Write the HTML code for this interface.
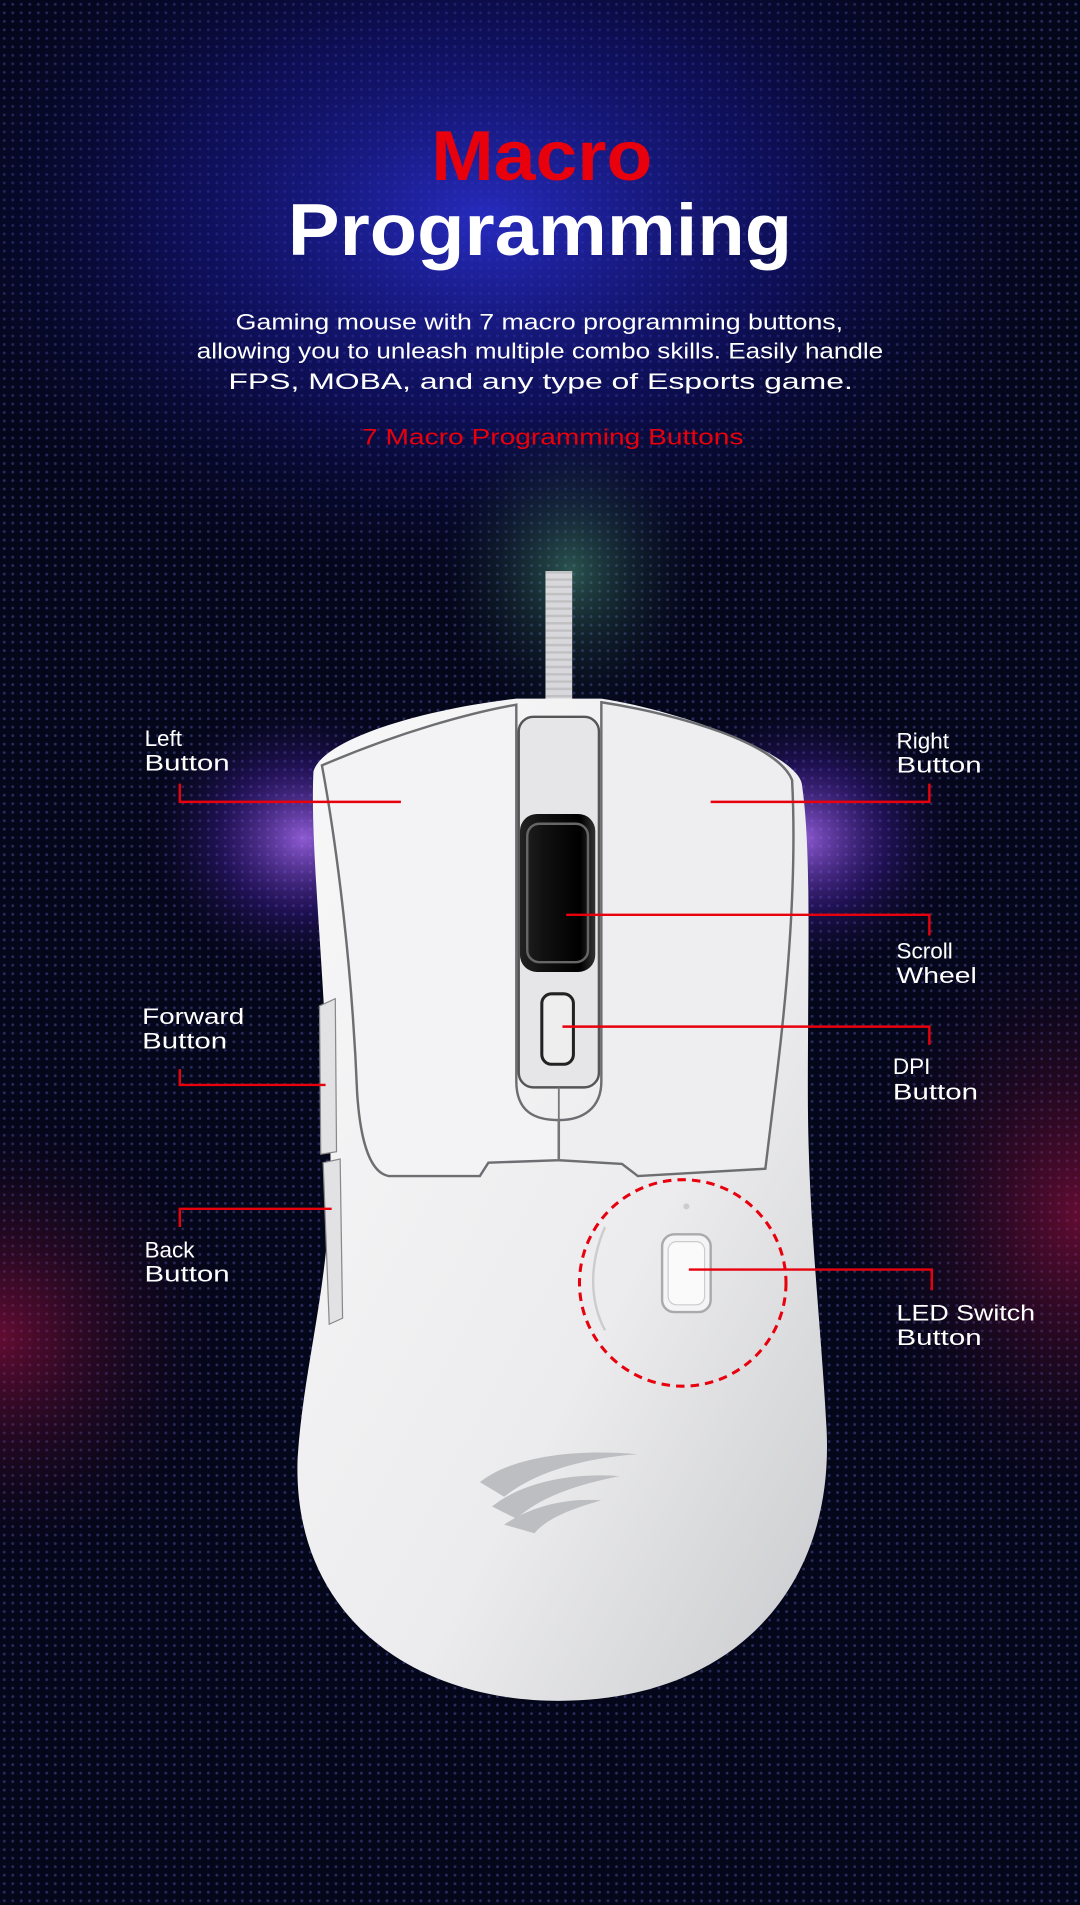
<!DOCTYPE html>
<html><head><meta charset="utf-8"><style>
html,body{margin:0;padding:0;background:#04061a;}
svg{display:block;}
</style></head><body>
<svg width="1080" height="1905" viewBox="0 0 889 1568" xmlns="http://www.w3.org/2000/svg" font-family="'Liberation Sans', sans-serif">
<defs>
<radialGradient id="gBlue" cx="0.5" cy="0.5" r="0.5">
<stop offset="0" stop-color="#2a2fd0" stop-opacity="0.9"/><stop offset="0.5" stop-color="#16168a" stop-opacity="0.5"/><stop offset="1" stop-color="#050818" stop-opacity="0"/></radialGradient>
<radialGradient id="gPurp" cx="0.5" cy="0.5" r="0.5">
<stop offset="0" stop-color="#b070ff" stop-opacity="0.8"/><stop offset="0.5" stop-color="#4a22a8" stop-opacity="0.4"/><stop offset="1" stop-color="#050818" stop-opacity="0"/></radialGradient>
<radialGradient id="gRed" cx="0.5" cy="0.5" r="0.5">
<stop offset="0" stop-color="#a01040" stop-opacity="0.6"/><stop offset="1" stop-color="#050818" stop-opacity="0"/></radialGradient>
<radialGradient id="gGreen" cx="0.5" cy="0.5" r="0.5">
<stop offset="0" stop-color="#50a080" stop-opacity="0.5"/><stop offset="1" stop-color="#050818" stop-opacity="0"/></radialGradient>
<pattern id="dots" width="7" height="7" patternUnits="userSpaceOnUse"><circle cx="3.5" cy="3.5" r="1.2" fill="#6f70d8" fill-opacity="0.35"/></pattern>
<linearGradient id="body" x1="0" y1="0" x2="1" y2="1"><stop offset="0" stop-color="#f8f8f9"/><stop offset="0.6" stop-color="#ececee"/><stop offset="1" stop-color="#c9cacd"/></linearGradient>
<linearGradient id="wheel" x1="0" y1="0" x2="1" y2="0"><stop offset="0" stop-color="#222"/><stop offset="0.3" stop-color="#111"/><stop offset="0.8" stop-color="#000"/><stop offset="1" stop-color="#333"/></linearGradient>
</defs>
<rect width="889" height="1568" fill="#04061a"/>
<rect width="889" height="1568" fill="url(#dots)"/>
<ellipse cx="400" cy="180" rx="520" ry="330" fill="url(#gBlue)"/>
<ellipse cx="470" cy="470" rx="120" ry="140" fill="url(#gGreen)"/>
<ellipse cx="250" cy="690" rx="140" ry="120" fill="url(#gPurp)"/>
<ellipse cx="660" cy="690" rx="140" ry="120" fill="url(#gPurp)"/>
<ellipse cx="0" cy="1100" rx="200" ry="200" fill="url(#gRed)"/>
<ellipse cx="889" cy="1000" rx="200" ry="260" fill="url(#gRed)"/>

<text x="355" y="148" textLength="182" lengthAdjust="spacingAndGlyphs" font-size="58" font-weight="bold" fill="#e8000d">Macro</text>
<text x="237" y="210" textLength="415" lengthAdjust="spacingAndGlyphs" font-size="60" font-weight="bold" fill="#fff">Programming</text>
<g font-size="18.5" fill="#fff">
<text x="194" y="271" textLength="500" lengthAdjust="spacingAndGlyphs">Gaming mouse with 7 macro programming buttons,</text>
<text x="162" y="295" textLength="565" lengthAdjust="spacingAndGlyphs">allowing you to unleash multiple combo skills. Easily handle</text>
<text x="188" y="320" textLength="514" lengthAdjust="spacingAndGlyphs">FPS, MOBA, and any type of Esports game.</text>
</g>
<text x="298" y="366" textLength="314" lengthAdjust="spacingAndGlyphs" font-size="18.5" fill="#e8000d">7 Macro Programming Buttons</text>

<path d="M460,470 L460,585" stroke="#d8d8dc" stroke-width="22"/>
<path d="M460,470 L460,585" stroke="#aaa" stroke-width="22" stroke-dasharray="2 4" stroke-opacity="0.5"/>

<path d="M258,635 C255,700 268,800 272,950 C274,1050 250,1120 245,1200 C240,1330 340,1400 460,1400 C600,1400 690,1310 680,1170 C675,1080 665,1000 665,900 C665,780 668,700 660,645 C655,620 560,585 495,575 L425,575 C340,585 265,610 258,635 Z" fill="url(#body)"/>
<path d="M265,630 C330,602 390,586 425,580 L425,890 C425,915 440,922 460,922 L460,955 L402,957 L395,968 L320,968 C302,965 296,930 294,900 C290,800 278,700 265,630 Z" fill="#f3f3f5" stroke="#6d6e72" stroke-width="2"/>
<path d="M495,578 C560,588 640,612 652,642 C655,700 652,780 640,880 L630,962 L525,968 L512,958 L460,955 L460,922 C480,922 495,912 495,890 Z" fill="#eeeef0" stroke="#6d6e72" stroke-width="2"/>
<rect x="427" y="590" width="66" height="305" rx="12" fill="#e6e6e8" stroke="#555" stroke-width="2"/>
<rect x="428" y="670" width="62" height="130" rx="14" fill="url(#wheel)"/>
<rect x="434" y="678" width="50" height="114" rx="10" fill="none" stroke="#666" stroke-width="2"/>
<rect x="446" y="818" width="26" height="58" rx="8" fill="#eee" stroke="#222" stroke-width="2.5"/>
<line x1="460" y1="895" x2="460" y2="955" stroke="#777" stroke-width="1.5"/>
<path d="M263,828 L276,822 L277,948 L264,950 Z" fill="#e2e2e4" stroke="#888" stroke-width="1"/>
<path d="M266,957 L280,954 L282,1085 L271,1090 Z" fill="#e2e2e4" stroke="#888" stroke-width="1"/>
<circle cx="565" cy="993" r="2.5" fill="#ccc"/>
<rect x="545" y="1016" width="40" height="64" rx="10" fill="#f4f4f6" stroke="#aaa" stroke-width="2"/>
<rect x="550" y="1022" width="30" height="52" rx="7" fill="#fafafa" stroke="#ccc" stroke-width="1"/>
<path d="M498,1010 C485,1040 485,1070 498,1095" stroke="#ccc" stroke-width="2" fill="none"/>
<circle cx="562" cy="1056" r="85" fill="none" stroke="#e8000d" stroke-width="2.5" stroke-dasharray="7 5"/>
<g fill="#bdbec2">
<path d="M395,1220 C420,1200 470,1192 525,1197 C480,1200 440,1212 415,1232 Z"/>
<path d="M405,1240 C430,1220 470,1212 510,1215 C475,1222 445,1232 425,1250 Z"/>
<path d="M415,1255 C440,1238 470,1233 495,1235 C470,1242 450,1250 440,1262 Z"/>
</g>

<g stroke="#e8000d" stroke-width="2" fill="none">
<path d="M148,645 L148,660 L330,660"/>
<path d="M585,660 L765,660 L765,645"/>
<path d="M466,753 L765,753 L765,770"/>
<path d="M463,845 L765,845 L765,860"/>
<path d="M148,880 L148,893 L268,893"/>
<path d="M148,1010 L148,995 L273,995"/>
<path d="M567,1045 L767,1045 L767,1062"/>
</g>
<g font-size="18.5" fill="#fff">
<text x="119" y="614">Left</text><text x="119" y="634" textLength="70" lengthAdjust="spacingAndGlyphs">Button</text>
<text x="738" y="616">Right</text><text x="738" y="636" textLength="70" lengthAdjust="spacingAndGlyphs">Button</text>
<text x="738" y="789">Scroll</text><text x="738" y="809" textLength="66" lengthAdjust="spacingAndGlyphs">Wheel</text>
<text x="735" y="884">DPI</text><text x="735" y="905" textLength="70" lengthAdjust="spacingAndGlyphs">Button</text>
<text x="117" y="843" textLength="84" lengthAdjust="spacingAndGlyphs">Forward</text><text x="117" y="863" textLength="70" lengthAdjust="spacingAndGlyphs">Button</text>
<text x="119" y="1035">Back</text><text x="119" y="1055" textLength="70" lengthAdjust="spacingAndGlyphs">Button</text>
<text x="738" y="1087" textLength="114" lengthAdjust="spacingAndGlyphs">LED Switch</text><text x="738" y="1107" textLength="70" lengthAdjust="spacingAndGlyphs">Button</text>
</g>
</svg>
</body></html>
